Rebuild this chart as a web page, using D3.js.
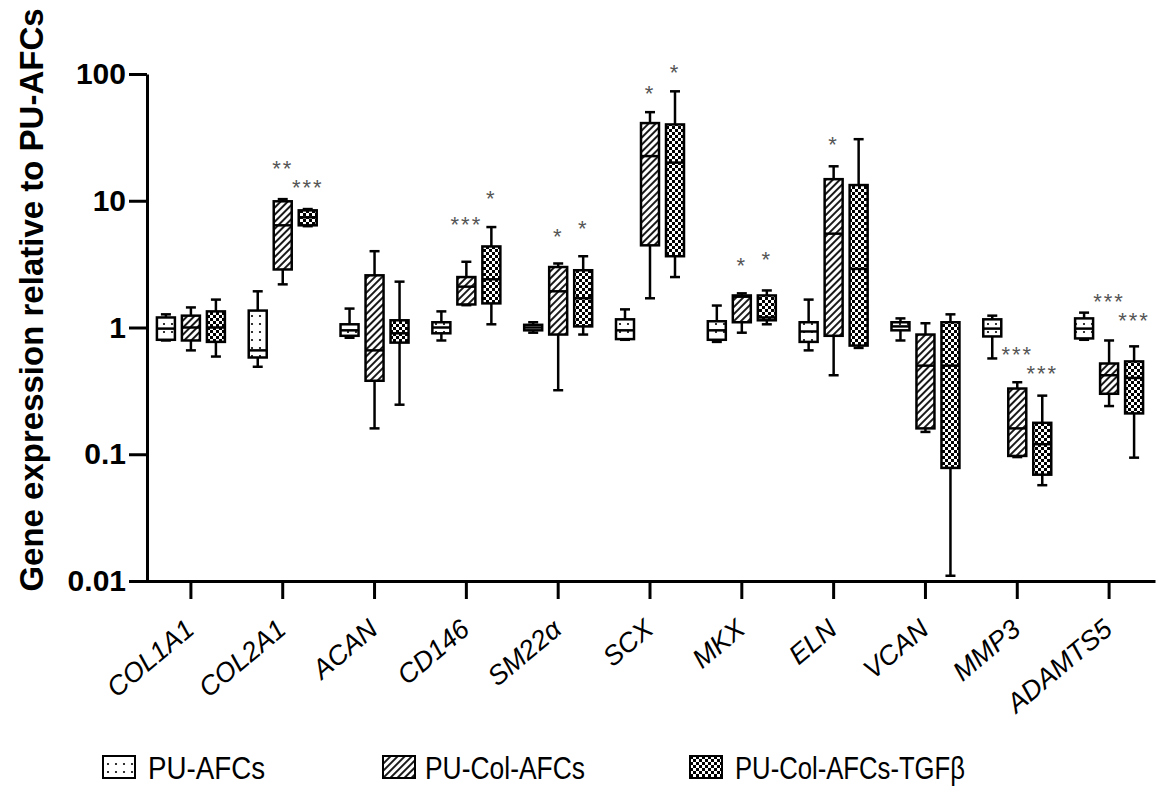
<!DOCTYPE html>
<html>
<head>
<meta charset="utf-8">
<script src="https://cdn.jsdelivr.net/npm/d3@7"></script>
<style>
  body { margin: 0; background: #fff; }
  svg { font-family: "Liberation Sans", Arial, sans-serif; display: block; }
</style>
</head>
<body>
<svg id="chart"></svg>
<script>
const genes = ["COL1A1", "COL2A1", "ACAN", "CD146", "SM22α", "SCX", "MKX", "ELN", "VCAN", "MMP3", "ADAMTS5"];
const series = ["PU-AFCs", "PU-Col-AFCs", "PU-Col-AFCs-TGFβ"];

// [min, q1, median, q3, max] per gene
const puAfcs = [
  [0.79, 0.80, 0.98, 1.20, 1.27],
  [0.49, 0.58, 0.66, 1.36, 1.93],
  [0.83, 0.86, 0.95, 1.06, 1.41],
  [0.79, 0.90, 1.00, 1.10, 1.34],
  [0.91, 0.95, 1.00, 1.05, 1.10],
  [0.80, 0.81, 0.95, 1.16, 1.39],
  [0.77, 0.80, 0.95, 1.12, 1.49],
  [0.66, 0.77, 0.93, 1.10, 1.66],
  [0.79, 0.95, 1.02, 1.10, 1.18],
  [0.57, 0.85, 0.98, 1.16, 1.24],
  [0.80, 0.82, 0.98, 1.18, 1.31]
];
const puColAfcs = [
  [0.66, 0.79, 1.00, 1.24, 1.44],
  [2.19, 2.87, 6.40, 9.90, 10.3],
  [0.16, 0.38, 0.66, 2.58, 4.00],
  [1.50, 1.52, 2.10, 2.50, 3.30],
  [0.32, 0.88, 1.93, 3.00, 3.20],
  [1.70, 4.45, 22.5, 41.0, 50.0],
  [0.91, 1.10, 1.75, 1.79, 1.86],
  [0.42, 0.86, 5.50, 14.8, 18.7],
  [0.15, 0.16, 0.50, 0.88, 1.08],
  [0.095, 0.097, 0.16, 0.33, 0.37],
  [0.24, 0.30, 0.42, 0.52, 0.79]
];
const puColAfcsTgf = [
  [0.59, 0.77, 1.00, 1.34, 1.66],
  [6.30, 6.40, 7.40, 8.40, 8.60],
  [0.246, 0.76, 0.90, 1.14, 2.30],
  [1.06, 1.55, 2.40, 4.36, 6.20],
  [0.88, 1.02, 1.70, 2.83, 3.65],
  [2.50, 3.65, 20.0, 40.0, 73.0],
  [1.06, 1.14, 1.20, 1.79, 1.96],
  [0.69, 0.72, 2.90, 13.3, 30.6],
  [0.011, 0.078, 0.50, 1.10, 1.27],
  [0.057, 0.069, 0.12, 0.177, 0.29],
  [0.094, 0.21, 0.40, 0.54, 0.71]
];
const seriesData = [puAfcs, puColAfcs, puColAfcsTgf];

const yTicks = [0.01, 0.1, 1, 10, 100];

// significance marks: gene, series index, label, level on the y axis
const sigGenes = ["COL2A1", "COL2A1", "CD146", "CD146", "SM22α", "SM22α", "SCX", "SCX", "MKX", "MKX", "ELN", "MMP3", "MMP3", "ADAMTS5", "ADAMTS5"];
const sigSeries = [1, 2, 1, 2, 1, 2, 1, 2, 1, 2, 1, 1, 2, 1, 2];
const sigLabels = ["**", "***", "***", "*", "*", "*", "*", "*", "*", "*", "*", "***", "***", "***", "***"];
const sigLevels = [19.9, 14.1, 7.2, 11.5, 5.8, 6.7, 77.6, 113, 3.4, 3.8, 30.7, 0.676, 0.48, 1.77, 1.25];

const width = 1158;
const height = 792;

const svg = d3.select("#chart").attr("width", width).attr("height", height);

const defs = svg.append("defs");

const dots = defs.append("pattern")
  .attr("id", "pat-dots")
  .attr("patternUnits", "userSpaceOnUse")
  .attr("width", 8).attr("height", 8);
dots.append("rect").attr("width", 8).attr("height", 8).attr("fill", "#fff");
dots.append("circle").attr("cx", 4).attr("cy", 4).attr("r", 1.1).attr("fill", "#000");

const hatch = defs.append("pattern")
  .attr("id", "pat-hatch")
  .attr("patternUnits", "userSpaceOnUse")
  .attr("width", 5).attr("height", 5)
  .attr("patternTransform", "rotate(45)");
hatch.append("rect").attr("width", 5).attr("height", 5).attr("fill", "#fff");
hatch.append("line")
  .attr("x1", 1).attr("y1", 0).attr("x2", 1).attr("y2", 5)
  .attr("stroke", "#000").attr("stroke-width", 1.8);

const checker = defs.append("pattern")
  .attr("id", "pat-checker")
  .attr("patternUnits", "userSpaceOnUse")
  .attr("width", 6).attr("height", 6);
checker.append("rect").attr("width", 6).attr("height", 6).attr("fill", "#fff");
checker.append("rect").attr("width", 3).attr("height", 3).attr("fill", "#000");
checker.append("rect").attr("x", 3).attr("y", 3).attr("width", 3).attr("height", 3).attr("fill", "#000");

const fills = ["url(#pat-dots)", "url(#pat-hatch)", "url(#pat-checker)"];

const x = d3.scaleBand().domain(genes).range([145, 1155]);
const xs = d3.scalePoint().domain(d3.range(series.length)).range([-25, 25]);
const y = d3.scaleLog().domain([0.01, 100]).range([581, 74]);

const boxWidth = 18;
const capWidth = 10;

// axes
const yAxis = svg.append("g")
  .attr("transform", "translate(147,0)")
  .call(d3.axisLeft(y).tickValues(yTicks).tickSize(18).tickSizeOuter(0).tickPadding(3).tickFormat(d => String(d)));
yAxis.selectAll("path, line").attr("stroke", "#000").attr("stroke-width", 3);
yAxis.selectAll("text")
  .attr("fill", "#000")
  .style("font-size", "30px")
  .style("font-weight", "bold");

const xAxis = svg.append("g")
  .attr("transform", "translate(0,581)")
  .call(d3.axisBottom(x).tickSize(18).tickSizeOuter(0));
xAxis.selectAll("path, line").attr("stroke", "#000").attr("stroke-width", 3);
xAxis.selectAll("text")
  .attr("fill", "#000")
  .attr("x", 5)
  .attr("y", 51)
  .attr("dy", 0)
  .attr("text-anchor", "end")
  .attr("transform", "rotate(-40 5 51)")
  .style("font-size", "27px")
  .style("font-style", "italic");

svg.append("text")
  .attr("transform", "translate(43,300) rotate(-90)")
  .attr("text-anchor", "middle")
  .style("font-size", "33px")
  .style("font-weight", "bold")
  .text("Gene expression relative to PU-AFCs");

// boxes
const boxes = [];
seriesData.forEach((arr, s) => {
  arr.forEach((v, g) => {
    boxes.push({ gene: genes[g], s: s, min: v[0], q1: v[1], med: v[2], q3: v[3], max: v[4] });
  });
});

const cx = d => x(d.gene) + x.bandwidth() / 2 + xs(d.s);

const bg = svg.append("g")
  .attr("stroke", "#000")
  .attr("stroke-width", 2.5)
  .selectAll("g")
  .data(boxes)
  .join("g");

bg.append("line")
  .attr("x1", cx).attr("x2", cx)
  .attr("y1", d => y(d.min)).attr("y2", d => y(d.max));
bg.append("line")
  .attr("x1", d => cx(d) - capWidth / 2).attr("x2", d => cx(d) + capWidth / 2)
  .attr("y1", d => y(d.max)).attr("y2", d => y(d.max));
bg.append("line")
  .attr("x1", d => cx(d) - capWidth / 2).attr("x2", d => cx(d) + capWidth / 2)
  .attr("y1", d => y(d.min)).attr("y2", d => y(d.min));
bg.append("rect")
  .attr("x", d => cx(d) - boxWidth / 2)
  .attr("width", boxWidth)
  .attr("y", d => y(d.q3))
  .attr("height", d => y(d.q1) - y(d.q3))
  .attr("fill", d => fills[d.s]);
bg.append("line")
  .attr("x1", d => cx(d) - boxWidth / 2).attr("x2", d => cx(d) + boxWidth / 2)
  .attr("y1", d => y(d.med)).attr("y2", d => y(d.med));

// significance stars
const sig = sigGenes.map((g, i) => ({ gene: g, s: sigSeries[i], label: sigLabels[i], level: sigLevels[i] }));
svg.append("g")
  .selectAll("text")
  .data(sig)
  .join("text")
  .attr("x", cx)
  .attr("y", d => y(d.level) + 13)
  .attr("text-anchor", "middle")
  .attr("fill", "#555")
  .style("font-size", "22px")
  .style("letter-spacing", "2px")
  .text(d => d.label);

// legend
const legendX = [103, 383, 690];
const legendTextX = [148, 425, 735];
const legendTextW = [117, 160, 230];
const legend = svg.append("g")
  .selectAll("g")
  .data(series)
  .join("g");
legend.append("rect")
  .attr("x", (d, i) => legendX[i])
  .attr("y", 756)
  .attr("width", 32)
  .attr("height", 22)
  .attr("fill", (d, i) => fills[i])
  .attr("stroke", "#000")
  .attr("stroke-width", 2);
legend.append("text")
  .attr("x", (d, i) => legendTextX[i])
  .attr("y", 779)
  .attr("textLength", (d, i) => legendTextW[i])
  .attr("lengthAdjust", "spacingAndGlyphs")
  .style("font-size", "32px")
  .text(d => d);
</script>
</body>
</html>
